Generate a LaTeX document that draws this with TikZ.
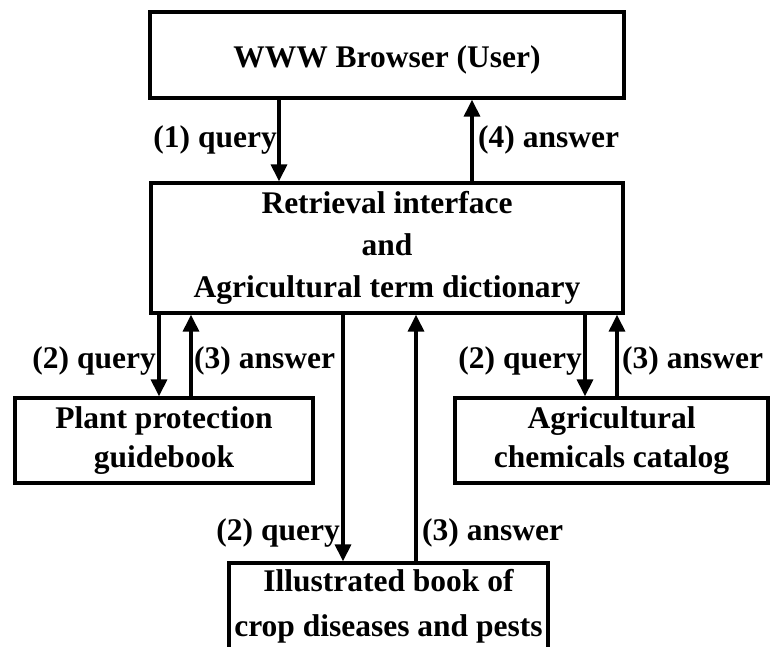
\documentclass[tikz,border=0pt]{standalone}
\usepackage{fontspec}
\setmainfont{Liberation Serif}
\usetikzlibrary{arrows.meta}
\begin{document}
\begin{tikzpicture}[x=1pt,y=-1pt,
  box/.style={draw,line width=3.3pt,inner sep=0pt,align=center,font=\bfseries\fontsize{31.5}{40}\selectfont},
  lbl/.style={inner sep=0pt,font=\bfseries\fontsize{31.5}{36}\selectfont},
  arr/.style={line width=3.3pt,-{Triangle[width=16pt,length=17pt]}}]
\useasboundingbox[fill=white] (0,0) rectangle (771,646);
\node[box,minimum width=474pt,minimum height=86pt,text height=29pt,text depth=5pt] (top) at (387,55) {WWW Browser (User)};
\node[box,minimum width=472pt,minimum height=130pt,font=\bfseries\fontsize{31.5}{42}\selectfont] (mid) at (387,248) {Retrieval interface\\and\\Agricultural term dictionary};
\node[box,minimum width=298pt,minimum height=85pt,font=\bfseries\fontsize{31.5}{39}\selectfont] (pp) at (164,440.5) {Plant protection\\guidebook};
\node[box,minimum width=313pt,minimum height=85pt,font=\bfseries\fontsize{31.5}{39}\selectfont] (ac) at (611.5,440.5) {Agricultural\\chemicals catalog};
\node[box,minimum width=319pt,minimum height=86pt,font=\bfseries\fontsize{31.5}{45}\selectfont] (ib) at (388.5,606) {Illustrated book of\\crop diseases and pests};
\coordinate (x1) at (279,0);
\coordinate (x4) at (472,0);
\coordinate (l2) at (159,0);
\coordinate (l3) at (191,0);
\coordinate (c2) at (343,0);
\coordinate (c3) at (416,0);
\coordinate (r2) at (585,0);
\coordinate (r3) at (617,0);
\draw[arr] (x1 |- top.south) -- (x1 |- mid.north);
\draw[arr] (x4 |- mid.north) -- (x4 |- top.south);
\draw[arr] (l2 |- mid.south) -- (l2 |- pp.north);
\draw[arr] (l3 |- pp.north) -- (l3 |- mid.south);
\draw[arr] (c2 |- mid.south) -- (c2 |- ib.north);
\draw[arr] (c3 |- ib.north) -- (c3 |- mid.south);
\draw[arr] (r2 |- mid.south) -- (r2 |- ac.north);
\draw[arr] (r3 |- ac.north) -- (r3 |- mid.south);
\node[lbl,anchor=base east] (t1) at (277,147) {(1) query};
\node[lbl,anchor=base west] (t4) at (478,147) {(4) answer};
\node[lbl,anchor=base east] (tl2) at (156,368) {(2) query};
\node[lbl,anchor=base west] (tl3) at (194,368) {(3) answer};
\node[lbl,anchor=base east] (tr2) at (582,368) {(2) query};
\node[lbl,anchor=base west] (tr3) at (622,368) {(3) answer};
\node[lbl,anchor=base east] (tc2) at (340,540) {(2) query};
\node[lbl,anchor=base west] (tc3) at (422,540) {(3) answer};
\end{tikzpicture}
\end{document}
